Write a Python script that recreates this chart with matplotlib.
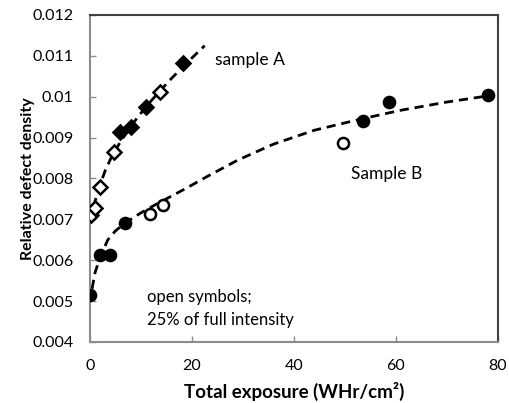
import matplotlib
matplotlib.use("Agg")
import matplotlib.pyplot as plt

# Sample A (diamonds)
a_open_x = [0.1, 1.0, 2.0, 4.8, 13.7]
a_open_y = [0.00711, 0.00727, 0.00778, 0.00866, 0.01011]
a_fill_x = [5.8, 8.0, 11.0, 18.3]
a_fill_y = [0.00914, 0.00927, 0.00975, 0.01082]
# Sample B (circles)
b_open_x = [11.8, 14.3, 49.7]
b_open_y = [0.00714, 0.00735, 0.00888]
b_fill_x = [0.0, 2.0, 3.9, 6.9, 53.6, 58.7, 78.1]
b_fill_y = [0.00515, 0.00613, 0.00613, 0.00692, 0.00941, 0.00987, 0.01004]

# Trend curves
a_curve_x = [0, 1, 2, 3, 4.5, 6, 8, 10, 12, 14, 16, 18, 20, 22.5]
a_curve_y = [0.00695, 0.00745, 0.00785, 0.0082, 0.0086, 0.0089, 0.00928,
             0.0096, 0.0099, 0.01018, 0.01045, 0.0107, 0.01095, 0.01125]
b_curve_x = [0.4, 1, 2, 3.5, 5, 7, 10, 13, 16, 19, 23, 29, 36, 44, 53, 61, 70, 78]
b_curve_y = [0.0053, 0.0057, 0.00608, 0.0065, 0.00672, 0.00692, 0.00716,
             0.00737, 0.00757, 0.00777, 0.00805, 0.00845, 0.00884, 0.00918,
             0.00945, 0.00967, 0.00987, 0.01002]

x_ticks = [0, 20, 40, 60, 80]
y_ticks = [0.004, 0.005, 0.006, 0.007, 0.008, 0.009, 0.01, 0.011, 0.012]
y_tick_labels = ["0.004", "0.005", "0.006", "0.007", "0.008", "0.009", "0.01", "0.011", "0.012"]

plt.rcParams['font.family'] = ['Lato', 'DejaVu Sans']

fig = plt.figure(figsize=(5.09, 4.03), dpi=100)
ax = fig.add_axes([0.1768, 0.1514, 0.8012, 0.8114])

dash = (0, (3.3, 2.1))
ax.plot(a_curve_x, a_curve_y, color='black', lw=2.0, linestyle=dash, zorder=2)
ax.plot(b_curve_x, b_curve_y, color='black', lw=2.0, linestyle=dash, zorder=2)

ax.plot(a_open_x, a_open_y, linestyle='none', marker='D', ms=7.5, mfc='white',
        mec='black', mew=1.8, zorder=3)
ax.plot(a_fill_x, a_fill_y, linestyle='none', marker='D', ms=7.5, mfc='black',
        mec='black', mew=1.8, zorder=3)
ax.plot(b_open_x, b_open_y, linestyle='none', marker='o', ms=8, mfc='white',
        mec='black', mew=1.8, zorder=3)
ax.plot(b_fill_x, b_fill_y, linestyle='none', marker='o', ms=8, mfc='black',
        mec='black', mew=1.8, zorder=3)

ax.text(24.5, 0.0109, "sample A", fontsize=12.5, va='center', ha='left')
ax.text(51.2, 0.00812, "Sample B", fontsize=12.5, va='center', ha='left')
ax.text(11.1, 0.0051, "open symbols;", fontsize=12, va='center', ha='left')
ax.text(11.1, 0.00455, "25% of full intensity", fontsize=12, va='center', ha='left')

ax.set_xlim(0, 80)
ax.set_ylim(0.004, 0.012)
ax.set_xticks(x_ticks)
ax.set_yticks(y_ticks)
ax.set_yticklabels(y_tick_labels)
ax.tick_params(direction='in', length=4, width=1, color='#8c8c8c',
               labelsize=11.5, pad=12)

for s in ['left', 'bottom']:
    ax.spines[s].set_color('#8c8c8c')
    ax.spines[s].set_linewidth(1.5)
for s in ['top', 'right']:
    ax.spines[s].set_color('#404040')
    ax.spines[s].set_linewidth(1.5)

ax.set_xlabel("Total exposure (WHr/cm²)", fontsize=13.5, fontweight='bold')
ax.set_ylabel("Relative defect density", fontsize=11.5, fontweight='bold')
ax.xaxis.set_label_coords(0.5, -0.122)
ax.yaxis.set_label_coords(-0.135, 0.5)

fig.savefig("out.png", dpi=100)
